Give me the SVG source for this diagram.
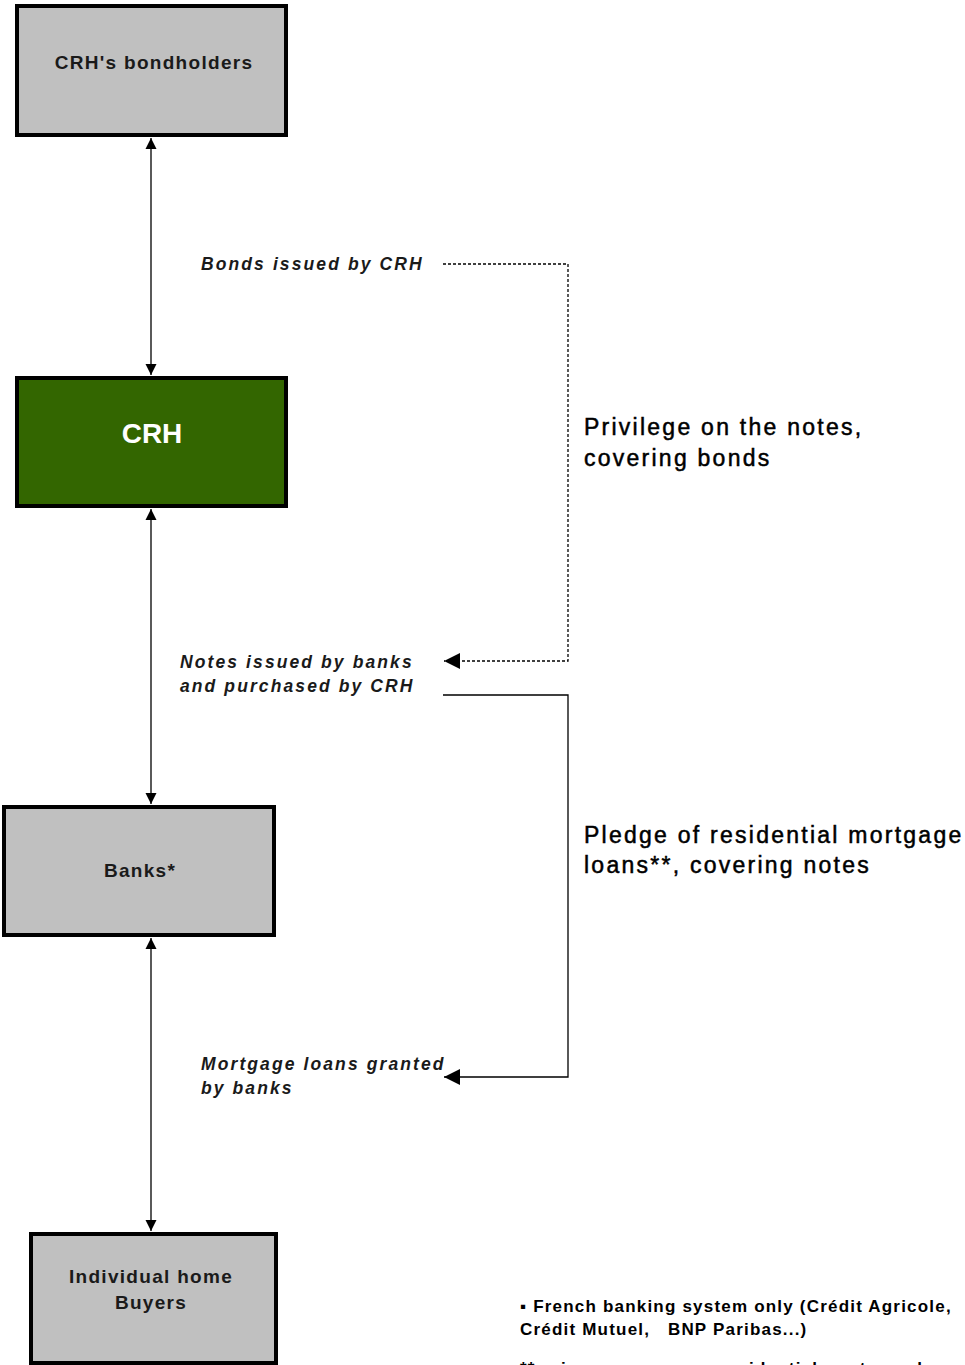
<svg xmlns="http://www.w3.org/2000/svg" width="965" height="1365" viewBox="0 0 965 1365">
<style>
.box{fill:#c0c0c0;stroke:#000;stroke-width:4}
.crh{fill:#336600;stroke:#000;stroke-width:4}
.nt{font-family:"Liberation Sans",Arial,sans-serif;font-weight:bold;font-size:19px;letter-spacing:1.3px;fill:#1a1a1a;text-anchor:middle}
.lab{font-family:"Liberation Sans",Arial,sans-serif;font-style:italic;font-weight:bold;font-size:17.5px;letter-spacing:2.1px;fill:#1a1a1a}
.side{font-family:"Liberation Sans",Arial,sans-serif;font-size:23px;letter-spacing:2.25px;fill:#000;stroke:#000;stroke-width:0.5}
.foot{font-family:"Liberation Sans",Arial,sans-serif;font-weight:bold;font-size:17px;letter-spacing:1.2px;fill:#000}
.ln{fill:none;stroke:#000;stroke-width:1.3}
.dot{fill:none;stroke:#000;stroke-width:1.3;stroke-dasharray:3 2}
</style>
<defs>
<marker id="ah" viewBox="0 0 10 10" refX="10" refY="5" markerWidth="11" markerHeight="12" markerUnits="userSpaceOnUse" orient="auto-start-reverse">
<path d="M0,0 L10,5 L0,10 z" fill="#000"/>
</marker>
<marker id="big" viewBox="0 0 10 10" refX="10" refY="5" markerWidth="27" markerHeight="16" markerUnits="userSpaceOnUse" orient="auto">
<path d="M0,0 L10,5 L0,10 z" fill="#000"/>
</marker>
</defs>
<rect width="965" height="1365" fill="#fff"/>
<g id="connectors">
<line class="ln" x1="151" y1="138" x2="151" y2="375" marker-start="url(#ah)" marker-end="url(#ah)"/>
<line class="ln" x1="151" y1="509" x2="151" y2="804" marker-start="url(#ah)" marker-end="url(#ah)"/>
<line class="ln" x1="151" y1="938" x2="151" y2="1231" marker-start="url(#ah)" marker-end="url(#ah)"/>
<polyline class="dot" points="443,264 568,264 568,661 444,661" marker-end="url(#big)"/>
<polyline class="ln" points="443,695 568,695 568,1077 444,1077" marker-end="url(#big)"/>
</g>
<g id="node-bondholders">
<rect class="box" x="17" y="6" width="269" height="129"/>
<text class="nt" x="154" y="69">CRH's bondholders</text>
</g>
<g id="node-crh">
<rect class="crh" x="17" y="378" width="269" height="128"/>
<text x="152" y="443" font-family="Liberation Sans,Arial,sans-serif" font-weight="bold" font-size="28" fill="#fff" text-anchor="middle">CRH</text>
</g>
<g id="node-banks">
<rect class="box" x="4" y="807" width="270" height="128"/>
<text class="nt" x="140" y="877">Banks*</text>
</g>
<g id="node-buyers">
<rect class="box" x="31" y="1234" width="245" height="129"/>
<text class="nt" x="151" y="1283">Individual home</text>
<text class="nt" x="151" y="1309">Buyers</text>
</g>
<g id="labels">
<text class="lab" x="201" y="270">Bonds issued by CRH</text>
<text class="lab" x="180" y="668">Notes issued by banks</text>
<text class="lab" x="180" y="692">and purchased by CRH</text>
<text class="lab" x="201" y="1070">Mortgage loans granted</text>
<text class="lab" x="201" y="1094">by banks</text>
<text class="side" x="584" y="435">Privilege on the notes,</text>
<text class="side" x="584" y="466">covering bonds</text>
<text class="side" x="584" y="843">Pledge of residential mortgage</text>
<text class="side" x="584" y="873">loans**, covering notes</text>
<text class="foot" x="520" y="1312">▪ French banking system only (Crédit Agricole,</text>
<text class="foot" x="520" y="1335" xml:space="preserve">Crédit Mutuel,   BNP Paribas...)</text>
<text class="foot" x="520" y="1374">** prime <tspan x="720">residential mortgage loans</tspan></text>
</g>
</svg>
